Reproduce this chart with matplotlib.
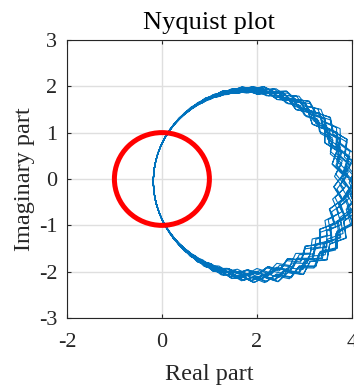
import numpy as np
import matplotlib
matplotlib.use("Agg")
import matplotlib.pyplot as plt
from matplotlib.patches import Circle

# Frequency-response model: a loop around a fixed centre whose radius swells
# on the right-hand side; the swell drifts slowly between revolutions and
# alternates from one frequency sample to the next.
loop_center = (1.72, -0.05)     # centre of the innermost loop
loop_radius = 1.90              # radius of the innermost loop
drift_amplitude = 0.36          # slow excursion at phase 0
jitter_amplitude = 0.20         # sample-to-sample excursion at phase 0
swell_tilt = 0.30               # asymmetry of the excursion (lower half larger)
samples_per_sweep = 63.27       # frequency samples per revolution
sweep_count = 16                # number of revolutions
drift_period = 3.7              # revolutions per slow drift cycle
phase_warp = 0.3                # faster phase advance on the right-hand side

unit_circle_radius = 1.0

x_ticks = [-2, 0, 2, 4]
y_ticks = [-3, -2, -1, 0, 1, 2, 3]

title_text = "Nyquist plot"
x_label = "Real part"
y_label = "Imaginary part"

# ---------------------------------------------------------------
n = np.arange(int(samples_per_sweep * sweep_count) + 1)
u = 2 * np.pi * n / samples_per_sweep
phase = u + phase_warp * np.sin(u)
drift = 0.5 + 0.5 * np.cos(u / drift_period)
jitter = 0.5 + 0.5 * np.cos(np.pi * n)
weight = ((1 + np.cos(phase)) / 2) ** 1.5 * (1 + swell_tilt * np.sin(phase))
radius = loop_radius + (drift_amplitude * drift + jitter_amplitude * jitter) * weight
response = (loop_center[0] + 1j * loop_center[1]) + radius * np.exp(-1j * phase)

plt.rcParams["font.family"] = ["Liberation Serif", "DejaVu Serif"]
fig = plt.figure(figsize=(3.54, 3.87), dpi=100)
ax = fig.add_axes([0.189, 0.178, 0.805, 0.719])

ax.plot(response.real, response.imag, color="#0072BD", lw=0.8, zorder=3)
ax.add_patch(Circle((0, 0), unit_circle_radius, fill=False,
                    edgecolor="#FF0000", lw=3.6, zorder=4))

ax.set_xlim(x_ticks[0], x_ticks[-1])
ax.set_ylim(y_ticks[0], y_ticks[-1])
ax.set_xticks(x_ticks)
ax.set_yticks(y_ticks)
ax.set_xticklabels([str(t) for t in x_ticks])
ax.set_yticklabels([str(t) for t in y_ticks])

ax.grid(True, color="#DFDFDF", lw=1.0, zorder=0)
ax.set_axisbelow(True)
for s in ax.spines.values():
    s.set_color("#262626")
    s.set_linewidth(0.8)
ax.tick_params(direction="in", length=3, width=0.8, colors="#262626",
               labelsize=16, top=True, right=True)
ax.tick_params(axis="y", pad=7)
ax.tick_params(axis="x", pad=11)

ax.set_title(title_text, fontsize=19, color="#000000", pad=8)
ax.set_xlabel(x_label, fontsize=17.5, color="#262626", labelpad=8)
ax.set_ylabel(y_label, fontsize=17.5, color="#262626", labelpad=3)

fig.savefig("out.png", dpi=100)
